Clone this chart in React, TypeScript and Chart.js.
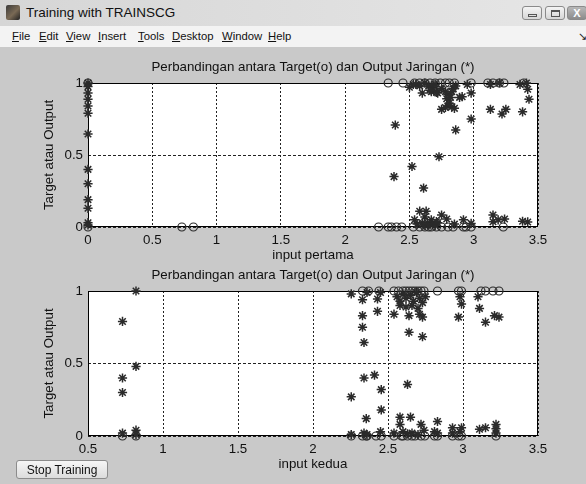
import React, { useEffect, useRef } from 'react';
import { Chart, registerables } from 'chart.js';

Chart.register(...registerables);

const FONT = '"Liberation Sans", Arial, Helvetica, sans-serif';
const UI_FONT = '"Liberation Sans", Arial, sans-serif';

const windowTitle = 'Training with TRAINSCG';
const menuItems = ['File', 'Edit', 'View', 'Insert', 'Tools', 'Desktop', 'Window', 'Help'];
const menuLeft = [12, 39, 66, 98, 138, 172, 222, 268];
const buttonLabel = 'Stop Training';

const chartTitle = 'Perbandingan antara Target(o) dan Output Jaringan (*)';
const yAxisTitle = 'Target atau Output';
const xAxisTitleTop = 'input pertama';
const xAxisTitleBottom = 'input kedua';
const xTicksTop = [0, 0.5, 1, 1.5, 2, 2.5, 3, 3.5];
const xTicksBottom = [0.5, 1, 1.5, 2, 2.5, 3, 3.5];
const yTicks = [0, 0.5, 1];

// ---- Top plot: input pertama ----
const topTargetX = [
  0, 0.73, 0.82, 2.26, 2.335, 2.36, 2.4, 2.44, 2.53, 2.58, 2.62, 2.65, 2.67, 2.71, 2.75, 2.8, 2.84, 2.92, 2.94, 2.98, 3.23,
  0, 2.335, 2.45, 2.54, 2.58, 2.62, 2.66, 2.7, 2.74, 2.78, 2.81, 2.85, 2.98, 3.11, 3.15, 3.2, 3.235, 3.39,
];
const topTargetY = [
  0, 0, 0, 0, 0, 0, 0, 0, 0, 0, 0, 0, 0, 0, 0, 0, 0, 0, 0, 0, 0,
  1, 1, 1, 1, 1, 1, 1, 1, 1, 1, 1, 1, 1, 1, 1, 1, 1, 1,
];
const topOutputX = [
  0, 0, 0, 0, 0, 0, 0, 0, 0, 0, 0, 0, 0,
  2.39, 2.38, 2.52, 2.61, 2.73, 2.86, 2.98,
  2.75, 2.8, 2.83, 2.85, 2.78, 2.81,
  3.13, 3.22, 3.25, 3.38, 3.43, 3.42, 3.41,
  2.5, 2.53, 2.55, 2.58, 2.6, 2.62, 2.65, 2.67, 2.68, 2.7, 2.71, 2.72, 2.75, 2.78, 2.8, 2.82, 2.83, 2.84, 2.86, 2.89, 2.91, 2.95, 2.98, 2.66, 2.79, 3.13, 3.2, 3.36,
  2.58, 2.63, 2.62, 2.75, 2.54, 2.67, 2.71, 2.79, 2.92, 2.98, 3.15, 3.15, 3.19, 3.24, 3.38, 3.42,
  2.56, 2.6, 2.62, 2.64, 2.66, 2.68, 2.7, 2.72, 2.85,
];
const topOutputY = [
  1.0, 0.975, 0.93, 0.887, 0.84, 0.79, 0.646, 0.4, 0.3, 0.19, 0.13, 0.03, 0.014,
  0.708, 0.35, 0.42, 0.27, 0.488, 0.674, 0.75,
  0.817, 0.84, 0.835, 0.824, 0.83, 0.86,
  0.817, 0.785, 0.817, 0.8, 0.887, 0.956, 1.0,
  0.97, 0.99, 0.99, 0.98, 0.93, 1.0, 0.98, 0.94, 0.97, 0.99, 0.935, 0.93, 0.96, 0.94, 0.92, 0.9, 0.94, 0.96, 0.98, 0.9, 0.905, 0.99, 0.93, 0.95, 0.89, 0.99, 1.0, 0.99,
  0.11, 0.11, 0.07, 0.083, 0.05, 0.05, 0.037, 0.055, 0.05, 0.025, 0.083, 0.037, 0.05, 0.055, 0.04, 0.035,
  0.02, 0.03, 0.01, 0.03, 0.015, 0.02, 0.01, 0.03, 0.02,
];

// ---- Bottom plot: input kedua ----
const bottomTargetX = [
  2.33, 2.37, 2.44, 2.54, 2.57, 2.6, 2.62, 2.64, 2.66, 2.68, 2.7, 2.72, 2.74, 2.83, 2.97, 2.99, 3.12, 3.15, 3.2, 3.24,
  0.73, 0.82, 2.255, 2.33, 2.355, 2.36, 2.42, 2.455, 2.54, 2.59, 2.6, 2.63, 2.66, 2.68, 2.72, 2.745, 2.81, 2.83, 2.93, 2.97, 2.99, 3.22,
];
const bottomTargetY = [
  1, 1, 1, 1, 1, 1, 1, 1, 1, 1, 1, 1, 1, 1, 1, 1, 1, 1, 1, 1,
  0, 0, 0, 0, 0, 0, 0, 0, 0, 0, 0, 0, 0, 0, 0, 0, 0, 0, 0, 0, 0, 0,
];
const bottomOutputX = [
  0.73, 0.82, 0.82, 0.73, 0.73, 0.73, 0.82, 0.82,
  2.255, 2.33, 2.33, 2.33, 2.34, 2.43, 2.43, 2.54, 2.58, 2.64, 2.71, 2.73, 2.64, 2.73, 2.98, 2.99, 2.97, 3.1, 3.11, 3.15, 3.21, 3.24,
  2.56, 2.6, 2.62, 2.65, 2.67, 2.69, 2.71, 2.73, 2.75, 2.66, 2.7, 2.62, 2.58, 2.36, 2.45,
  2.255, 2.34, 2.41, 2.455, 2.455, 2.355, 2.63, 2.58, 2.65, 2.58, 2.72, 2.83, 2.93, 2.99, 3.11, 3.15, 3.22, 3.22,
  2.255, 2.34, 2.36, 2.45, 2.54, 2.6, 2.63, 2.66, 2.7, 2.74, 2.81, 2.83, 2.93, 2.98, 3.22,
];
const bottomOutputY = [
  0.79, 1.0, 0.48, 0.4, 0.3, 0.02, 0.04, 0.01,
  0.98, 0.94, 0.83, 0.75, 0.645, 0.945, 0.86, 0.84, 0.9, 0.83, 0.84, 0.82, 0.715, 0.685, 0.96, 0.91, 0.82, 0.96, 0.88, 0.785, 0.83, 0.82,
  0.96, 0.98, 0.95, 0.97, 0.93, 0.99, 0.95, 0.92, 0.96, 0.9, 0.88, 0.89, 0.93, 0.99, 0.99,
  0.27, 0.4, 0.42, 0.32, 0.18, 0.12, 0.356, 0.13, 0.13, 0.08, 0.08, 0.1, 0.057, 0.057, 0.046, 0.057, 0.08, 0.05,
  0.01, 0.02, 0.01, 0.03, 0.02, 0.03, 0.015, 0.02, 0.01, 0.04, 0.03, 0.02, 0.02, 0.03, 0.02,
];

const zip = (xs: number[], ys: number[]) => xs.map((x, i) => ({ x, y: ys[i] }));

const MARK = '#2b2b2b';

const matlabFrame = {
  id: 'matlabFrame',
  beforeDraw(chart: any) {
    const { ctx, chartArea: a } = chart;
    ctx.save();
    ctx.fillStyle = '#ffffff';
    ctx.fillRect(a.left, a.top, a.right - a.left, a.bottom - a.top);
    ctx.restore();
  },
  beforeDatasetsDraw(chart: any) {
    const { ctx, chartArea: a } = chart;
    ctx.save();
    ctx.strokeStyle = '#000000';
    ctx.lineWidth = 1;
    ctx.setLineDash([]);
    const l = Math.round(a.left) + 0.5;
    const t = Math.round(a.top) + 0.5;
    const r = Math.round(a.right) - 0.5;
    const b = Math.round(a.bottom) - 0.5;
    ctx.strokeRect(l, t, r - l, b - t);
    ctx.restore();
  },
  afterDraw(chart: any, _args: any, opts: any) {
    const { ctx, chartArea: a } = chart;
    const cx = (a.left + a.right) / 2;
    const cy = (a.top + a.bottom) / 2;
    ctx.save();
    ctx.fillStyle = '#111111';
    ctx.font = `13.3px ${FONT}`;
    ctx.textAlign = 'center';
    ctx.textBaseline = 'middle';
    ctx.fillText(opts.title, cx, a.top - 16);
    ctx.fillText(opts.xTitle, cx, a.bottom + 28);
    ctx.translate(a.left - 39, cy);
    ctx.rotate(-Math.PI / 2);
    ctx.fillText(opts.yTitle, 0, 0);
    ctx.restore();
  },
};

function makeConfig(p: {
  tx: number[]; ty: number[]; ox: number[]; oy: number[];
  xTicks: number[]; xTitle: string; leftW: number; bottomH: number; top: number; right: number;
}): any {
  return {
    type: 'scatter',
    data: {
      datasets: [
        {
          label: 'Target',
          data: zip(p.tx, p.ty),
          pointStyle: 'circle',
          pointRadius: 4,
          pointHoverRadius: 4,
          backgroundColor: 'rgba(0,0,0,0)',
          borderColor: MARK,
          borderWidth: 1.2,
          clip: false,
        },
        {
          label: 'Output',
          data: zip(p.ox, p.oy),
          pointStyle: 'star',
          pointRadius: 4.6,
          pointHoverRadius: 4.6,
          backgroundColor: MARK,
          borderColor: MARK,
          borderWidth: 1.5,
          clip: false,
        },
      ],
    },
    options: {
      animation: false,
      responsive: false,
      maintainAspectRatio: false,
      events: [],
      layout: { padding: { top: p.top, right: p.right, left: 0, bottom: 0 } },
      plugins: {
        legend: { display: false },
        tooltip: { enabled: false },
        title: { display: false },
        matlabFrame: { title: chartTitle, xTitle: p.xTitle, yTitle: yAxisTitle },
      },
      scales: {
        x: {
          type: 'linear',
          min: p.xTicks[0],
          max: p.xTicks[p.xTicks.length - 1],
          afterBuildTicks: (s: any) => { s.ticks = p.xTicks.map((v) => ({ value: v })); },
          afterFit: (s: any) => { s.height = p.bottomH; },
          ticks: {
            autoSkip: false,
            maxRotation: 0,
            padding: 5,
            color: '#111111',
            font: { family: FONT, size: 13.3 },
            callback: (v: any) => String(v),
          },
          grid: { color: '#222222', lineWidth: 1, drawTicks: false },
          border: { display: false, dash: [2, 2] },
        },
        y: {
          type: 'linear',
          min: 0,
          max: 1,
          afterBuildTicks: (s: any) => { s.ticks = yTicks.map((v) => ({ value: v })); },
          afterFit: (s: any) => { s.width = p.leftW; },
          ticks: {
            autoSkip: false,
            padding: 5,
            color: '#111111',
            font: { family: FONT, size: 13.3 },
            callback: (v: any) => String(v),
          },
          grid: { color: '#222222', lineWidth: 1, drawTicks: false },
          border: { display: false, dash: [3, 2] },
        },
      },
    },
    plugins: [matlabFrame],
  };
}

function MatlabAxes(props: { cfg: any; top: number; height: number }) {
  const ref = useRef<HTMLCanvasElement | null>(null);
  useEffect(() => {
    if (!ref.current) return;
    const chart = new Chart(ref.current, props.cfg);
    return () => chart.destroy();
  }, []);
  return (
    <canvas
      ref={ref}
      width={586}
      height={props.height}
      style={{ position: 'absolute', left: 0, top: props.top, width: 586, height: props.height }}
    />
  );
}

export default function App() {
  const topCfg = makeConfig({
    tx: topTargetX, ty: topTargetY, ox: topOutputX, oy: topOutputY,
    xTicks: xTicksTop, xTitle: xAxisTitleTop, leftW: 88, bottomH: 38, top: 28, right: 48,
  });
  const bottomCfg = makeConfig({
    tx: bottomTargetX, ty: bottomTargetY, ox: bottomOutputX, oy: bottomOutputY,
    xTicks: xTicksBottom, xTitle: xAxisTitleBottom, leftW: 88, bottomH: 48, top: 26, right: 48,
  });

  const winBtn = (left: number, dark: boolean, glyph: React.ReactNode) => (
    <div
      style={{
        position: 'absolute', left, top: 6, width: 20, height: 14,
        border: '1px solid #8a8a8a', borderRadius: 3,
        background: dark ? 'linear-gradient(#b8b8b8,#8c8c8c)' : 'linear-gradient(#f4f4f4,#d6d6d6)',
        boxSizing: 'border-box', display: 'flex', alignItems: 'center', justifyContent: 'center',
      }}
    >
      {glyph}
    </div>
  );

  return (
    <div
      style={{
        position: 'fixed', left: 0, top: 0, width: 586, height: 484, overflow: 'hidden',
        background: '#c9c9c9', fontFamily: UI_FONT,
      }}
    >
      {/* title bar */}
      <div style={{ position: 'absolute', left: 0, top: 0, width: 586, height: 26, background: 'linear-gradient(90deg,#d6d6d6,#dedede 50%,#e6e6e6)' }}>
        <div style={{ position: 'absolute', left: 6, top: 5, width: 14, height: 15, background: 'linear-gradient(135deg,#3a3a3a,#7a6a55 55%,#222)', borderRadius: 2 }} />
        <div style={{ position: 'absolute', left: 26, top: 5, fontSize: 13.5, color: '#111', whiteSpace: 'nowrap', lineHeight: '16px' }}>{windowTitle}</div>
        {winBtn(522, false, <div style={{ width: 9, height: 3, border: '1px solid #555', boxSizing: 'border-box', marginTop: 4 }} />)}
        {winBtn(545, false, <div style={{ width: 9, height: 7, border: '1px solid #555', borderTopWidth: 2, boxSizing: 'border-box' }} />)}
        {winBtn(567, true, <div style={{ color: '#fff', fontSize: 11, fontWeight: 700, lineHeight: '11px' }}>X</div>)}
      </div>
      {/* menu bar */}
      <div style={{ position: 'absolute', left: 0, top: 26, width: 586, height: 21, background: '#f3f3f3' }}>
        {menuItems.map((m, i) => (
          <div key={m} style={{ position: 'absolute', left: menuLeft[i], top: 3, fontSize: 11.3, color: '#111', lineHeight: '15px', whiteSpace: 'nowrap' }}>
            <span style={{ textDecoration: 'underline' }}>{m[0]}</span>{m.slice(1)}
          </div>
        ))}
        <div style={{ position: 'absolute', left: 578, top: 3, fontSize: 11, color: '#222', lineHeight: '15px' }}>↘</div>
      </div>

      <MatlabAxes cfg={topCfg} top={55} height={210} />
      <MatlabAxes cfg={bottomCfg} top={265} height={219} />

      <div
        style={{
          position: 'absolute', left: 16, top: 460, width: 92, height: 19, boxSizing: 'border-box',
          border: '1px solid #8c8c8c', borderRadius: 3, background: 'linear-gradient(#f6f6f6,#dcdcdc)',
          fontFamily: FONT, fontSize: 12, color: '#111', display: 'flex', alignItems: 'center', justifyContent: 'center', zIndex: 2,
        }}
      >
        {buttonLabel}
      </div>
    </div>
  );
}
